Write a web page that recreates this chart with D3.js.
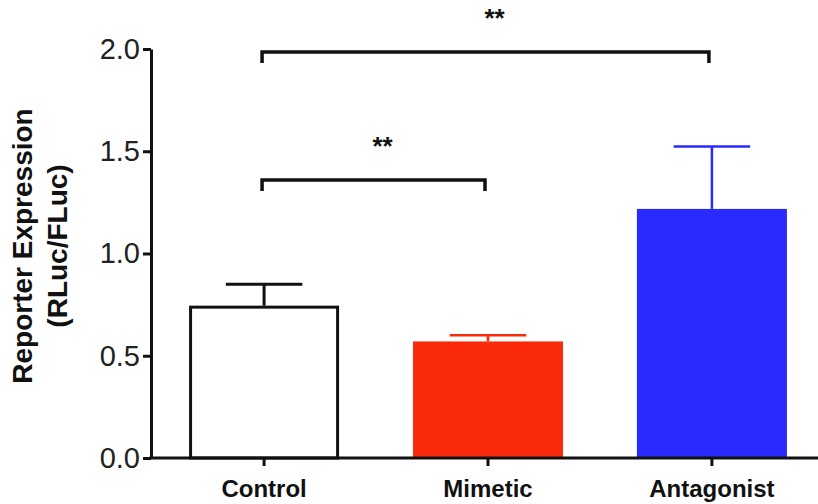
<!DOCTYPE html>
<html>
<head>
<meta charset="utf-8">
<script src="https://cdn.jsdelivr.net/npm/d3@7"></script>
<style>
  html, body { margin: 0; padding: 0; background: #fff; }
  svg { display: block; font-family: "Liberation Sans", Arial, sans-serif; }
</style>
</head>
<body>
<svg id="chart" width="818" height="504"></svg>
<script>
// ---- data ----
const categories = ["Control", "Mimetic", "Antagonist"];
const means = [0.745, 0.57, 1.218];
const sems = [0.105, 0.03, 0.305];
const yTicks = [0.0, 0.5, 1.0, 1.5, 2.0];
const sigPairs = [["Control", "Antagonist"], ["Control", "Mimetic"]];
const sigLevels = [1.985, 1.36];
const sigLabels = ["**", "**"];

// ---- styles ----
const fills = ["#ffffff", "#fa2a0a", "#2a2aff"];
const strokes = ["#111111", "#fa2a0a", "#2a2aff"];

const svg = d3.select("#chart");

const y = d3.scaleLinear().domain([0, 2]).range([458, 49]);
const x = d3.scaleBand().domain(categories).range([151, 825])
  .paddingInner(0.33).paddingOuter(0.17);

const data = categories.map((c, i) => ({ c, m: means[i], s: sems[i], i }));

// bars
svg.append("g").selectAll("rect").data(data).join("rect")
  .attr("x", d => x(d.c) + (d.i === 0 ? 1.5 : 0))
  .attr("width", d => x.bandwidth() - (d.i === 0 ? 3 : 0))
  .attr("y", d => y(d.m) + (d.i === 0 ? 1.5 : 0))
  .attr("height", d => y(0) - y(d.m) - (d.i === 0 ? 1.5 : 0))
  .attr("fill", d => fills[d.i])
  .attr("stroke", d => d.i === 0 ? strokes[0] : "none")
  .attr("stroke-width", 3);

// error bars (upper only)
const eb = svg.append("g");
data.forEach(d => {
  const cx = x(d.c) + x.bandwidth() / 2;
  const hw = x.bandwidth() * 0.255;
  eb.append("line")
    .attr("x1", cx).attr("x2", cx)
    .attr("y1", y(d.m)).attr("y2", y(d.m + d.s))
    .attr("stroke", strokes[d.i]).attr("stroke-width", d.i === 0 ? 3 : 2.5);
  eb.append("line")
    .attr("x1", cx - hw).attr("x2", cx + hw)
    .attr("y1", y(d.m + d.s)).attr("y2", y(d.m + d.s))
    .attr("stroke", strokes[d.i]).attr("stroke-width", d.i === 0 ? 3 : 2.5);
});

// axes
const yAxis = svg.append("g").attr("transform", "translate(151,0)")
  .call(d3.axisLeft(y).tickValues(yTicks).tickFormat(d3.format(".1f"))
    .tickSize(8).tickSizeOuter(0).tickPadding(3));
yAxis.select(".domain").attr("stroke", "#111").attr("stroke-width", 3);
yAxis.selectAll(".tick line").attr("stroke", "#111").attr("stroke-width", 3);
yAxis.selectAll(".tick text").attr("font-size", 29).attr("fill", "#222")
  .attr("font-family", "Liberation Sans, Arial, sans-serif");

const xAxis = svg.append("g").attr("transform", "translate(0,458)")
  .call(d3.axisBottom(x).tickSize(8).tickSizeOuter(0).tickPadding(14));
xAxis.select(".domain").attr("stroke", "#111").attr("stroke-width", 3)
  .attr("d", "M149.5,0H818");
xAxis.selectAll(".tick line").attr("stroke", "#111").attr("stroke-width", 3);
xAxis.selectAll(".tick text").attr("font-size", 24).attr("font-weight", "bold")
  .attr("fill", "#111").attr("font-family", "Liberation Sans, Arial, sans-serif");

// y title
const yt = svg.append("text")
  .attr("transform", "translate(32,246) rotate(-90)")
  .attr("text-anchor", "middle")
  .attr("font-size", 28).attr("font-weight", "bold").attr("fill", "#111");
yt.append("tspan").attr("x", 0).attr("dy", 0).text("Reporter Expression");
yt.append("tspan").attr("x", 0).attr("dy", 35).text("(RLuc/FLuc)");

// significance brackets
const sg = svg.append("g");
sigPairs.forEach((p, i) => {
  const x1 = x(p[0]) + x.bandwidth() / 2 - 2;
  const x2 = x(p[1]) + x.bandwidth() / 2 - 3;
  const yy = y(sigLevels[i]);
  sg.append("path")
    .attr("d", `M${x1},${yy + 11}V${yy}H${x2}V${yy + 11}`)
    .attr("fill", "none").attr("stroke", "#111").attr("stroke-width", 3.5);
  sg.append("text")
    .attr("x", (x1 + x2) / 2 + 9).attr("y", yy - 25)
    .attr("text-anchor", "middle")
    .attr("font-size", 26).attr("font-weight", "bold").attr("fill", "#111")
    .text(sigLabels[i]);
});
</script>
</body>
</html>
